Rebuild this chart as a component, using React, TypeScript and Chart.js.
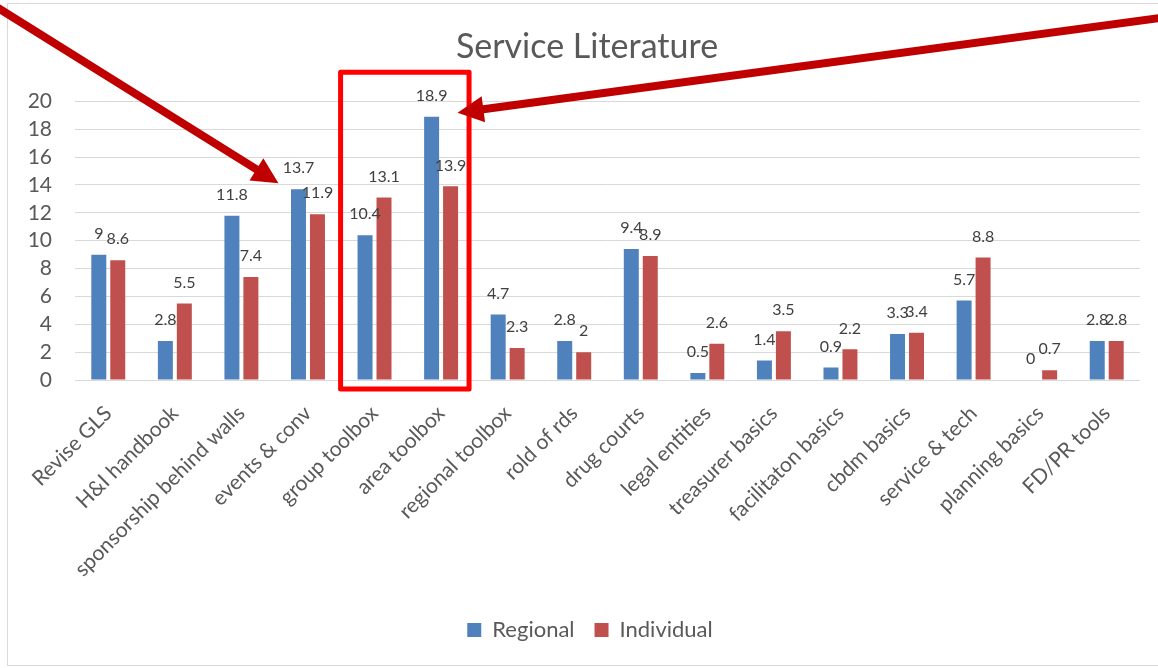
import React, { useEffect, useRef } from "react";
import { Chart, registerables } from "chart.js";

Chart.register(...registerables);

const categories = [
  "Revise GLS",
  "H&I handbook",
  "sponsorship behind walls",
  "events & conv",
  "group toolbox",
  "area toolbox",
  "regional toolbox",
  "rold of rds",
  "drug courts",
  "legal entities",
  "treasurer basics",
  "facilitaton basics",
  "cbdm basics",
  "service & tech",
  "planning basics",
  "FD/PR tools",
];
const regional = [9, 2.8, 11.8, 13.7, 10.4, 18.9, 4.7, 2.8, 9.4, 0.5, 1.4, 0.9, 3.3, 5.7, 0, 2.8];
const individual = [8.6, 5.5, 7.4, 11.9, 13.1, 13.9, 2.3, 2, 8.9, 2.6, 3.5, 2.2, 3.4, 8.8, 0.7, 2.8];
const yTicks = [0, 2, 4, 6, 8, 10, 12, 14, 16, 18, 20];
const TITLE = "Service Literature";

const FONT = "Lato, 'Open Sans', sans-serif";
const BLUE = "#4F81BD";
const RED = "#C0504D";
const ARROW = "#C00000";
// the original chart frame runs past the right edge, so centred items sit right of the canvas centre
const CENTER_SHIFT = 20;

const frame = {
  id: "frame",
  afterLayout(chart: any) {
    const lg = chart.legend;
    if (lg) {
      lg.left += CENTER_SHIFT;
      lg.right += CENTER_SHIFT;
    }
  },
  beforeDraw(chart: any) {
    const ctx = chart.ctx;
    ctx.save();
    ctx.fillStyle = "#ffffff";
    ctx.fillRect(0, 0, chart.width, chart.height);
    ctx.strokeStyle = "#D9D9D9";
    ctx.lineWidth = 1;
    ctx.strokeRect(7.5, 3.5, chart.width + 20, chart.height - 6);
    ctx.font = `34px ${FONT}`;
    ctx.fillStyle = "#595959";
    ctx.textAlign = "center";
    ctx.textBaseline = "middle";
    ctx.fillText(TITLE, chart.width / 2 + 8, 47);
    ctx.restore();
  },
};

const valueLabels = {
  id: "valueLabels",
  afterDatasetsDraw(chart: any) {
    const ctx = chart.ctx;
    ctx.save();
    ctx.font = `16px ${FONT}`;
    ctx.fillStyle = "#404040";
    ctx.textAlign = "center";
    ctx.textBaseline = "middle";
    chart.data.datasets.forEach((ds: any, di: number) => {
      const meta = chart.getDatasetMeta(di);
      meta.data.forEach((el: any, i: number) => {
        ctx.fillText(String(ds.data[i]), el.x, el.y - 21);
      });
    });
    ctx.restore();
  },
};

function drawArrow(ctx: any, x0: number, y0: number, x1: number, y1: number) {
  const ang = Math.atan2(y1 - y0, x1 - x0);
  const headLen = 26;
  const headHalf = 13;
  const bx = x1 - headLen * Math.cos(ang);
  const by = y1 - headLen * Math.sin(ang);
  ctx.strokeStyle = ARROW;
  ctx.fillStyle = ARROW;
  ctx.lineWidth = 8;
  ctx.lineCap = "butt";
  ctx.beginPath();
  ctx.moveTo(x0, y0);
  ctx.lineTo(bx + 2 * Math.cos(ang), by + 2 * Math.sin(ang));
  ctx.stroke();
  ctx.beginPath();
  ctx.moveTo(x1, y1);
  ctx.lineTo(bx + headHalf * Math.sin(ang), by - headHalf * Math.cos(ang));
  ctx.lineTo(bx - headHalf * Math.sin(ang), by + headHalf * Math.cos(ang));
  ctx.closePath();
  ctx.fill();
}

const annotations = {
  id: "annotations",
  afterDraw(chart: any) {
    const ctx = chart.ctx;
    const xs = chart.scales.x;
    const ys = chart.scales.y;
    const step = xs.getPixelForValue(1) - xs.getPixelForValue(0);
    ctx.save();
    const left = xs.getPixelForValue(4) - step * 0.51;
    const right = xs.getPixelForValue(5) + step * 0.42;
    const top = ys.getPixelForValue(22.1);
    const bottom = ys.getPixelForValue(0) + 9;
    ctx.strokeStyle = "#FF0000";
    ctx.lineWidth = 5;
    ctx.lineJoin = "round";
    ctx.strokeRect(left, top, right - left, bottom - top);
    const blue = chart.getDatasetMeta(0).data;
    const ev = blue[3];
    drawArrow(ctx, -2, 8, ev.x - 20, ev.y - 6);
    const ar = blue[5];
    drawArrow(ctx, chart.width + 2, 18, ar.x + 26, ar.y - 4);
    ctx.restore();
  },
};

export default function App() {
  const ref = useRef<HTMLCanvasElement | null>(null);
  useEffect(() => {
    document.body.style.margin = "0";
    const canvas = ref.current;
    if (!canvas) return;
    const chart = new Chart(canvas, {
      type: "bar",
      data: {
        labels: categories,
        datasets: [
          {
            label: "Regional",
            data: regional,
            backgroundColor: BLUE,
            categoryPercentage: 0.57,
            barPercentage: 0.79,
          },
          {
            label: "Individual",
            data: individual,
            backgroundColor: RED,
            categoryPercentage: 0.57,
            barPercentage: 0.79,
          },
        ],
      },
      options: {
        responsive: false,
        animation: false,
        devicePixelRatio: 1,
        layout: { padding: { left: 0, right: 18, top: 0, bottom: 17 } },
        plugins: {
          title: {
            display: true,
            text: TITLE,
            color: "rgba(0,0,0,0)",
            font: { family: FONT, size: 34, weight: "normal" },
            padding: { top: 27, bottom: 33.6 },
          },
          legend: {
            position: "bottom",
            labels: {
              color: "#595959",
              font: { family: FONT, size: 22 },
              boxWidth: 14,
              boxHeight: 14,
              padding: 20,
            },
          },
          tooltip: { enabled: false },
        },
        scales: {
          x: {
            grid: { display: false },
            border: { display: false },
            ticks: {
              color: "#595959",
              font: { family: FONT, size: 21 },
              minRotation: 45,
              maxRotation: 45,
              padding: 13,
              autoSkip: false,
            },
            afterFit(scale: any) {
              scale.height = 219;
            },
          },
          y: {
            min: 0,
            max: 20,
            afterBuildTicks(scale: any) {
              scale.ticks = yTicks.map((v) => ({ value: v }));
            },
            grid: { color: "#D9D9D9", lineWidth: 1, drawTicks: false },
            border: { display: false },
            ticks: {
              color: "#595959",
              font: { family: FONT, size: 21 },
              padding: 23,
              autoSkip: false,
            },
            afterFit(scale: any) {
              scale.width = 75;
            },
          },
        },
      },
      plugins: [frame, valueLabels, annotations],
    });
    return () => chart.destroy();
  }, []);
  return (
    <div style={{ width: 1158, height: 668 }}>
      <canvas ref={ref} width={1158} height={668} style={{ display: "block" }} />
    </div>
  );
}
